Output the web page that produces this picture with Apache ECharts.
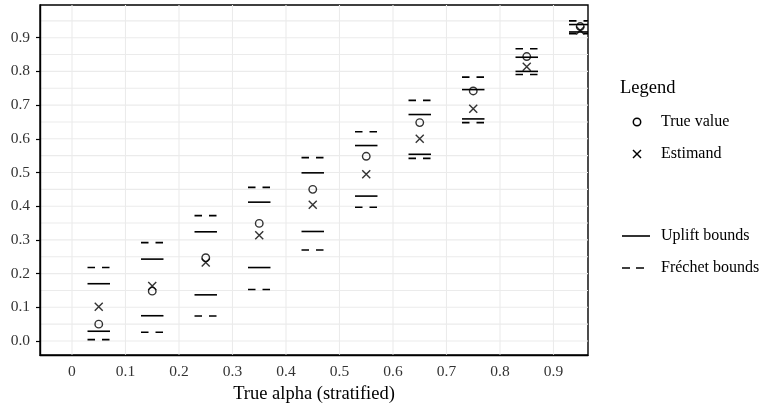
<!DOCTYPE html>
<html>
<head>
<meta charset="utf-8">
<script src="https://cdn.jsdelivr.net/npm/echarts@6/dist/echarts.min.js"></script>
<style>
html, body { margin: 0; padding: 0; background: #fff; }
#chart { width: 763px; height: 413px; }
</style>
</head>
<body>
<div id="chart"></div>
<script>
// true alpha of each stratum (x)
var alphaCats = [0.05, 0.15, 0.25, 0.35, 0.45, 0.55, 0.65, 0.75, 0.85, 0.95];
var trueValue = [0.050, 0.148, 0.247, 0.349, 0.450, 0.548, 0.648, 0.742, 0.844, 0.933];
var estimand = [0.102, 0.163, 0.233, 0.314, 0.404, 0.495, 0.600, 0.689, 0.814, 0.921];
var upliftLower = [0.029, 0.075, 0.137, 0.218, 0.325, 0.430, 0.554, 0.659, 0.800, 0.917];
var upliftUpper = [0.170, 0.243, 0.324, 0.412, 0.499, 0.580, 0.672, 0.746, 0.842, 0.939];
var frechetLower = [0.004, 0.026, 0.074, 0.153, 0.270, 0.397, 0.542, 0.648, 0.791, 0.912];
var frechetUpper = [0.218, 0.292, 0.372, 0.456, 0.544, 0.621, 0.714, 0.783, 0.867, 0.950];
// tick labels / grid breaks
var xTicks = [0, 0.1, 0.2, 0.3, 0.4, 0.5, 0.6, 0.7, 0.8, 0.9];
var yTicks = [0, 0.1, 0.2, 0.3, 0.4, 0.5, 0.6, 0.7, 0.8, 0.9];
var yGrid = [0, 0.05, 0.1, 0.15, 0.2, 0.25, 0.3, 0.35, 0.4, 0.45, 0.5, 0.55, 0.6, 0.65, 0.7, 0.75, 0.8, 0.85, 0.9, 0.95];

var serif = "'Liberation Serif', 'DejaVu Serif', serif";

var chartObj = {
    chart : null,
    segHalf : 0.021,
    init : function() {
        this.chart = echarts.init(document.getElementById('chart'), null, {renderer : 'canvas'});
        this.render();
    },
    pairs : function(vals) {
        return alphaCats.map(function(a, i) {
            return [a, vals[i]];
        });
    },
    // horizontal / vertical grid lines drawn on the axes' scales
    gridSeries : function(vals, horizontal) {
        return {
            type : 'custom',
            silent : true,
            z : 0,
            clip : true,
            data : vals.map(function(v) { return [v]; }),
            renderItem : function(params, api) {
                var cs = params.coordSys;
                var v = api.value(0);
                var p = horizontal ? api.coord([0, v]) : api.coord([v, 0]);
                var shape = horizontal ?
                    {x1 : cs.x, y1 : p[1], x2 : cs.x + cs.width, y2 : p[1]} :
                    {x1 : p[0], y1 : cs.y, x2 : p[0], y2 : cs.y + cs.height};
                return {
                    type : 'line',
                    shape : shape,
                    style : {stroke : '#ebebeb', lineWidth : 1.1}
                };
            }
        };
    },
    segSeries : function(name, vals, dashed) {
        var that = this;
        return {
            name : name,
            type : 'custom',
            z : 3,
            clip : true,
            data : this.pairs(vals),
            renderItem : function(params, api) {
                var c = api.coord([api.value(0), api.value(1)]);
                var half = api.size([that.segHalf, 0])[0];
                return {
                    type : 'line',
                    shape : {x1 : c[0] - half, y1 : c[1], x2 : c[0] + half, y2 : c[1]},
                    style : {
                        stroke : '#000',
                        lineWidth : 1.6,
                        lineDash : dashed ? [7.5, 7] : null
                    }
                };
            }
        };
    },
    legendGraphic : function() {
        var lx = 637, tx = 661;
        var txt = function(s, y) {
            return {
                type : 'text', x : tx, y : y,
                style : {text : s, fill : '#000', font : '16px ' + serif, verticalAlign : 'middle'}
            };
        };
        return [
            {type : 'text', x : 620, y : 88,
             style : {text : 'Legend', fill : '#000', font : '18.5px ' + serif, verticalAlign : 'middle'}},
            {type : 'circle', shape : {cx : lx, cy : 122, r : 3.7},
             style : {fill : 'none', stroke : '#000', lineWidth : 1.5}},
            txt('True value', 122),
            {type : 'line', shape : {x1 : lx - 4, y1 : 154 - 4, x2 : lx + 4, y2 : 154 + 4},
             style : {stroke : '#000', lineWidth : 1.5}},
            {type : 'line', shape : {x1 : lx - 4, y1 : 154 + 4, x2 : lx + 4, y2 : 154 - 4},
             style : {stroke : '#000', lineWidth : 1.5}},
            txt('Estimand', 154),
            {type : 'line', shape : {x1 : 622, y1 : 236, x2 : 650, y2 : 236},
             style : {stroke : '#000', lineWidth : 1.6}},
            txt('Uplift bounds', 236),
            {type : 'line', shape : {x1 : 622, y1 : 268, x2 : 650, y2 : 268},
             style : {stroke : '#000', lineWidth : 1.6, lineDash : [8, 6]}},
            txt('Fréchet bounds', 268)
        ];
    },
    render : function() {
        var option = {
            animation : false,
            backgroundColor : '#fff',
            textStyle : {fontFamily : serif},
            grid : {
                show : true,
                left : 40,
                right : 175,
                top : 5,
                bottom : 58,
                backgroundColor : '#fff',
                borderColor : '#000',
                borderWidth : 1.4
            },
            xAxis : {
                type : 'value',
                min : -0.0598,
                max : 0.9645,
                name : 'True alpha (stratified)',
                nameLocation : 'middle',
                nameGap : 24,
                nameTextStyle : {color : '#000', fontSize : 18.5, fontFamily : serif},
                axisLine : {show : true, onZero : false, lineStyle : {color : '#000', width : 1.4}},
                axisTick : {show : false},
                splitLine : {show : false},
                axisLabel : {
                    customValues : xTicks,
                    margin : 9,
                    color : '#333',
                    fontSize : 15.5,
                    fontFamily : serif,
                    formatter : function(v) {
                        return v === 0 ? '0' : v.toFixed(1);
                    }
                }
            },
            yAxis : {
                type : 'value',
                min : -0.0415,
                max : 0.997,
                axisLine : {show : true, onZero : false, lineStyle : {color : '#000', width : 1.4}},
                axisTick : {
                    show : true,
                    customValues : yTicks,
                    length : 4,
                    lineStyle : {color : '#000', width : 1.2}
                },
                splitLine : {show : false},
                axisLabel : {
                    customValues : yTicks,
                    margin : 10,
                    color : '#333',
                    fontSize : 15.5,
                    fontFamily : serif,
                    formatter : function(v) {
                        return v.toFixed(1);
                    }
                }
            },
            graphic : this.legendGraphic(),
            series : [
                this.gridSeries(yGrid, true),
                this.gridSeries(xTicks, false),
                this.segSeries('Uplift bounds', upliftLower, false),
                this.segSeries('Uplift bounds', upliftUpper, false),
                this.segSeries('Fréchet bounds', frechetLower, true),
                this.segSeries('Fréchet bounds', frechetUpper, true),
                {
                    name : 'True value',
                    type : 'scatter',
                    z : 4,
                    data : this.pairs(trueValue),
                    symbol : 'circle',
                    symbolSize : 7.5,
                    itemStyle : {color : 'rgba(0,0,0,0)', borderColor : '#000', borderWidth : 1.4}
                },
                {
                    name : 'Estimand',
                    type : 'scatter',
                    z : 4,
                    data : this.pairs(estimand),
                    symbol : 'path://M0,0L10,10M10,0L0,10',
                    symbolSize : 8,
                    itemStyle : {color : 'rgba(0,0,0,0)', borderColor : '#000', borderWidth : 1.4}
                }
            ]
        };
        this.chart.setOption(option);
    }
};
chartObj.init();
</script>
</body>
</html>
